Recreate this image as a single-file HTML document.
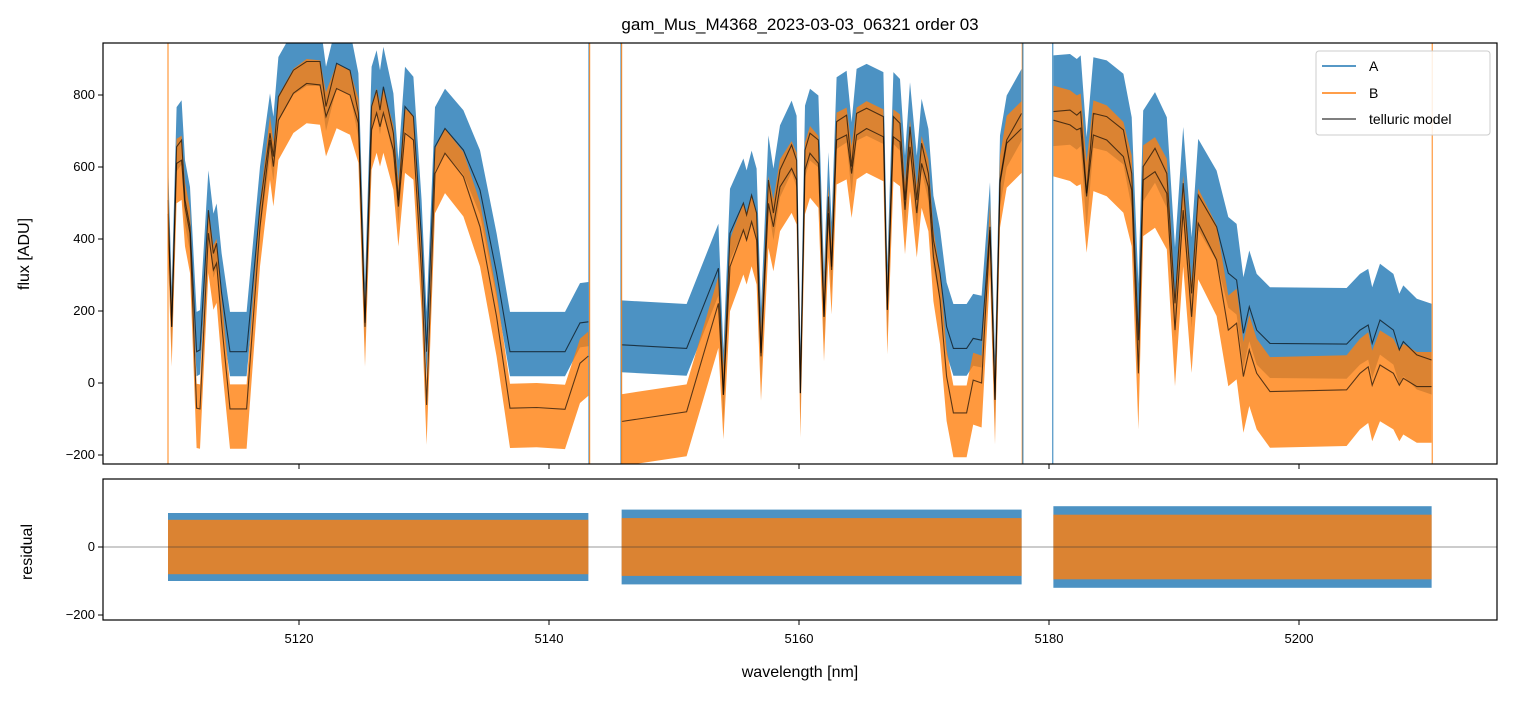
<!DOCTYPE html>
<html><head><meta charset="utf-8"><style>
html,body{margin:0;padding:0;background:#fff;}
svg text{font-family:"Liberation Sans","DejaVu Sans",sans-serif;fill:#000;}
</style></head><body>
<svg id="chart" width="1513" height="696" viewBox="0 0 1513 696" xmlns="http://www.w3.org/2000/svg">
<defs>
<clipPath id="clipTop"><rect x="103" y="43" width="1394" height="421"/></clipPath>
<clipPath id="clipBot"><rect x="103" y="479" width="1394" height="141"/></clipPath>
</defs>
<text x="800" y="30" font-size="17" text-anchor="middle">gam_Mus_M4368_2023-03-03_06321  order 03</text>
<g id="topPlot" clip-path="url(#clipTop)"></g>
<g id="botPlot" clip-path="url(#clipBot)"></g>
<rect x="103" y="43" width="1394" height="421" fill="none" stroke="#000" stroke-width="1.2"/>
<rect x="103" y="479" width="1394" height="141" fill="none" stroke="#000" stroke-width="1.2"/>
<g id="axes"></g>
<text transform="translate(29,254) rotate(-90)" font-size="16" text-anchor="middle">flux [ADU]</text>
<text transform="translate(32,552) rotate(-90)" font-size="16" text-anchor="middle">residual</text>
<text x="800" y="677" font-size="16" text-anchor="middle">wavelength [nm]</text>
<g>
<rect x="1316" y="51" width="174" height="84" rx="3" fill="#fff" fill-opacity="0.85" stroke="#ccc"/>
<line x1="1322" y1="66" x2="1356" y2="66" stroke="#1f77b4" stroke-width="1.6"/>
<text x="1369" y="71" font-size="14">A</text>
<line x1="1322" y1="93" x2="1356" y2="93" stroke="#ff7f0e" stroke-width="1.6"/>
<text x="1369" y="98" font-size="14">B</text>
<line x1="1322" y1="119" x2="1356" y2="119" stroke="#555" stroke-width="1.6"/>
<text x="1369" y="124" font-size="14">telluric model</text>
</g>
</svg>
<script>
const wl1=[5109.52,5109.82,5110.21,5110.61,5110.88,5111.28,5111.81,5112.08,5112.75,5113.15,5113.41,5113.81,5114.48,5115.81,5116.88,5117.68,5117.95,5118.35,5119.55,5120.61,5121.68,5122.16,5123.01,5124.08,5124.75,5125.28,5125.81,5126.21,5126.48,5126.75,5127.55,5127.95,5128.48,5129.15,5129.81,5130.21,5130.88,5131.68,5133.15,5134.48,5135.81,5136.88,5139.01,5141.28,5142.48,5143.15];
const modelA1=[508,156,656,675,508,434,87,92,480,360,388,250,87,87,490,694,629,795,869,893,893,768,888,869,750,167,768,814,758,823,694,508,768,740,397,87,656,707,647,536,305,87,87,87,167,170];
const modelB1=[470,156,610,619,490,416,-70,-72,416,314,333,167,-72,-72,434,675,601,730,805,832,828,740,818,800,722,156,703,750,712,750,647,490,694,675,305,-61,582,638,573,434,184,-70,-68,-73,55,75];
const wl2=[5145.81,5151.01,5153.55,5153.95,5154.48,5155.55,5155.81,5156.21,5156.61,5156.96,5157.55,5157.95,5158.48,5159.41,5159.81,5160.11,5160.48,5160.88,5161.55,5162.0,5162.35,5162.61,5163.01,5163.81,5164.21,5164.61,5165.41,5166.75,5167.06,5167.55,5168.08,5168.48,5168.88,5169.42,5169.81,5170.35,5170.75,5171.28,5171.81,5172.35,5173.41,5173.94,5174.61,5175.28,5175.68,5176.08,5176.62,5177.81];
const modelA2=[106,96,319,-33,416,500,467,522,472,83,564,472,592,661,619,-28,647,694,675,184,518,323,726,744,601,749,763,740,203,740,721,508,712,508,666,582,397,305,156,96,96,124,119,434,-47,564,675,749];
const modelB2=[-107,-80,221,-33,323,425,397,448,397,74,499,434,545,596,564,-28,592,638,610,184,472,314,675,689,582,689,707,684,203,684,670,481,656,472,610,545,351,231,18,-83,-83,8,0,425,-47,555,666,707];
const wl3=[5180.35,5181.68,5182.22,5182.54,5183.01,5183.55,5184.62,5185.95,5186.62,5187.15,5187.54,5188.48,5189.42,5190.08,5190.74,5191.41,5191.94,5193.41,5194.34,5195.01,5195.55,5196.02,5196.62,5197.68,5203.81,5204.88,5205.54,5205.86,5206.48,5207.55,5208.02,5208.34,5209.42,5210.61];
const modelA3=[754,758,744,754,527,749,740,703,582,119,601,652,582,221,555,249,522,434,305,286,138,212,147,110,108,147,161,110,175,147,92,115,78,64];
const modelB3=[730,717,703,708,518,689,675,629,536,27,564,587,527,147,480,184,444,342,147,166,18,92,27,-24,-19,27,45,-6,50,27,-6,13,-10,-10];
const spreadA=[85,95,120];
const spreadB=[85,95,120];
const residSpreadA=[100,110,120];
const residSpreadB=[80,85,95];
const xTicks=[5120,5140,5160,5180,5200];
const yTicksTop=[800,600,400,200,0,-200];
const yTicksBot=[0,-200];

const NS='http://www.w3.org/2000/svg';
const X=w=>49+(w-5100)*12.5;
const Y=v=>383-v*0.36;
const YR=v=>547-v*0.34;
function mk(tag,attrs,parent){const e=document.createElementNS(NS,tag);for(const k in attrs)e.setAttribute(k,attrs[k]);parent.appendChild(e);return e;}
const topG=document.getElementById('topPlot'),botG=document.getElementById('botPlot'),axesG=document.getElementById('axes');
const segs=[[wl1,modelA1,modelB1],[wl2,modelA2,modelB2],[wl3,modelA3,modelB3]];
function band(wl,model,up,down,yf){let p=[];for(let i=0;i<wl.length;i++)p.push(X(wl[i]).toFixed(1)+','+yf(model[i]+up).toFixed(1));for(let i=wl.length-1;i>=0;i--)p.push(X(wl[i]).toFixed(1)+','+yf(model[i]-down).toFixed(1));return p.join(' ');}
function line(wl,model,yf){return wl.map((w,i)=>X(w).toFixed(1)+','+yf(model[i]).toFixed(1)).join(' ');}
segs.forEach((s,k)=>{
  const [wl,a,b]=s;
  const ba=mk('polygon',{points:band(wl,a,spreadA[k]*1.3,spreadA[k]*0.8,Y),fill:'#1f77b4','fill-opacity':'0.8'},topG);
  
  
  const bb=mk('polygon',{points:band(wl,b,spreadB[k]*0.8,spreadB[k]*1.3,Y),fill:'#ff7f0e','fill-opacity':'0.8'},topG);
  
  
  const la=mk('polyline',{points:line(wl,a,Y),fill:'none',stroke:'#000','stroke-opacity':'0.65','stroke-width':'1.1'},topG);
  
  
  const lb=mk('polyline',{points:line(wl,b,Y),fill:'none',stroke:'#000','stroke-opacity':'0.65','stroke-width':'1.1'},topG);
  
  
  const x0=X(wl[0]),x1=X(wl[wl.length-1]);
  const ra=mk('rect',{x:x0,y:YR(residSpreadA[k]),width:x1-x0,height:YR(-residSpreadA[k])-YR(residSpreadA[k]),fill:'#1f77b4','fill-opacity':'0.8'},botG);
  
  
  const rb=mk('rect',{x:x0,y:YR(residSpreadB[k]),width:x1-x0,height:YR(-residSpreadB[k])-YR(residSpreadB[k]),fill:'#ff7f0e','fill-opacity':'0.8'},botG);
  
  
});
[[wl1[0],'#ff7f0e'],[wl1[wl1.length-1]+0.05,'#1f77b4'],[wl1[wl1.length-1]+0.1,'#ff7f0e'],[wl2[0]-0.05,'#1f77b4'],[wl2[0],'#ff7f0e'],[wl2[wl2.length-1]+0.05,'#ff7f0e'],[wl2[wl2.length-1]+0.1,'#1f77b4'],[wl3[0]-0.05,'#1f77b4'],[wl3[wl3.length-1]+0.05,'#ff7f0e']].forEach(e=>{
  const l=mk('line',{x1:X(e[0]),x2:X(e[0]),y1:43,y2:464,stroke:e[1],'stroke-width':'1.2','stroke-opacity':'0.8'},topG);
  
  
});
const z=mk('line',{x1:103,x2:1497,y1:YR(0),y2:YR(0),stroke:'#333','stroke-width':'0.6'},botG);


xTicks.forEach(t=>{
  const x=X(t);
  mk('line',{x1:x,x2:x,y1:464,y2:469,stroke:'#000'},axesG);
  mk('line',{x1:x,x2:x,y1:620,y2:625,stroke:'#000'},axesG);
  const tx=mk('text',{x:x,y:643,'font-size':'13','text-anchor':'middle'},axesG);
  tx.textContent=t;
  
  
});
yTicksTop.forEach(t=>{
  const y=Y(t);
  mk('line',{x1:98,x2:103,y1:y,y2:y,stroke:'#000'},axesG);
  const tx=mk('text',{x:95,y:y+4,'font-size':'13','text-anchor':'end'},axesG);
  tx.textContent=t<0?'\u2212'+(-t):t;
  
  
});
yTicksBot.forEach(t=>{
  const y=YR(t);
  mk('line',{x1:98,x2:103,y1:y,y2:y,stroke:'#000'},axesG);
  const tx=mk('text',{x:95,y:y+4,'font-size':'13','text-anchor':'end'},axesG);
  tx.textContent=t<0?'\u2212'+(-t):t;
  
  
});
</script>
</body></html>
